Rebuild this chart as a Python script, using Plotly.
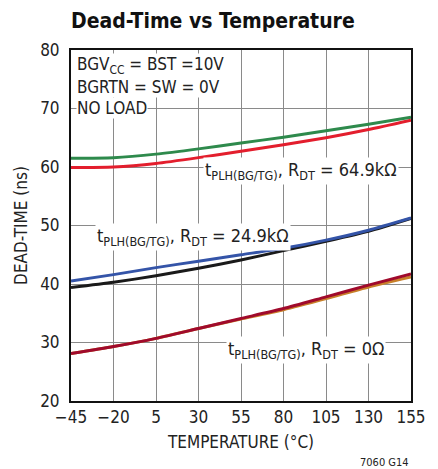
import plotly.graph_objects as go

temps = [-45, -20, 5, 30, 55, 80, 105, 130, 155]

green_649k = [61.5, 61.6, 62.2, 63.1, 64.1, 65.1, 66.2, 67.3, 68.5]
red_649k = [59.9, 60.0, 60.6, 61.6, 62.7, 63.8, 65.0, 66.4, 68.0]
black_249k = [39.4, 40.3, 41.4, 42.7, 44.1, 45.7, 47.3, 49.0, 51.2]
blue_249k = [40.5, 41.6, 42.8, 43.9, 45.0, 46.1, 47.5, 49.2, 51.3]
orange_0 = [28.1, 29.3, 30.7, 32.4, 34.0, 35.6, 37.5, 39.5, 41.2]
darkred_0 = [28.1, 29.3, 30.7, 32.4, 34.1, 35.8, 37.8, 39.8, 41.7]

x_ticks = [-45, -20, 5, 30, 55, 80, 105, 130, 155]
x_ticktext = ["\u221245", "\u221220", "5", "30", "55", "80", "105", "130", "155"]
y_ticks = [20, 30, 40, 50, 60, 70, 80]

FONT = "DejaVu Sans Condensed, Liberation Sans Narrow, Arial Narrow, sans-serif"

series = [
    (orange_0, "#c8802a"),
    (darkred_0, "#a00a2c"),
    (black_249k, "#1a1a1a"),
    (blue_249k, "#3454a8"),
    (red_649k, "#e31e2d"),
    (green_649k, "#2e8a4c"),
]

fig = go.Figure()
for ys, col in series:
    fig.add_trace(go.Scatter(x=temps, y=ys, mode="lines",
                             line=dict(color=col, width=3, shape="spline", smoothing=0.6),
                             showlegend=False, hoverinfo="skip"))

ann_font = dict(family=FONT, size=17, color="#222")
annotations = [
    dict(x=-45, y=77.3, xref="x", yref="y", xanchor="left", yanchor="middle",
         text="BGV<sub>CC</sub> = BST =10V", showarrow=False, bgcolor="white",
         borderpad=0, xshift=5, font=ann_font),
    dict(x=-45, y=73.7, xref="x", yref="y", xanchor="left", yanchor="middle",
         text="BGRTN = SW = 0V", showarrow=False, bgcolor="white",
         borderpad=0, xshift=5, font=ann_font),
    dict(x=-45, y=70.1, xref="x", yref="y", xanchor="left", yanchor="middle",
         text="NO LOAD", showarrow=False, bgcolor="white",
         borderpad=0, xshift=5, font=ann_font),
    dict(x=90, y=59.4, xref="x", yref="y", text="t<sub>PLH(BG/TG)</sub>, R<sub>DT</sub> = 64.9k\u03a9",
         showarrow=False, bgcolor="white", borderpad=1, font=dict(ann_font, size=18)),
    dict(x=27, y=48.1, xref="x", yref="y", text="t<sub>PLH(BG/TG)</sub>, R<sub>DT</sub> = 24.9k\u03a9",
         showarrow=False, bgcolor="white", borderpad=1, font=dict(ann_font, size=18)),
    dict(x=93, y=28.8, xref="x", yref="y", text="t<sub>PLH(BG/TG)</sub>, R<sub>DT</sub> = 0\u03a9",
         showarrow=False, bgcolor="white", borderpad=1, font=dict(ann_font, size=18)),
    dict(x=1.0, y=-0.174, xref="paper", yref="paper", xanchor="right", yanchor="middle",
         text="7060 G14", showarrow=False,
         font=dict(family=FONT, size=11, color="#222")),
]

# the page body adds an 8px margin, so the figure is sized/offset to compensate
fig.update_layout(
    width=430, height=461,
    margin=dict(l=60, r=19, t=42, b=68),
    paper_bgcolor="white", plot_bgcolor="white",
    title=dict(text="<b>Dead-Time vs Temperature</b>", x=0, xref="paper", xanchor="left",
               y=0.972, yanchor="middle", pad=dict(l=0, r=0, t=0, b=0),
               font=dict(family=FONT, size=21, color="#111")),
    font=dict(family=FONT, size=16, color="#222"),
    annotations=annotations,
)
fig.update_xaxes(range=[-45, 155], tickvals=x_ticks, ticktext=x_ticktext,
                 showgrid=True, gridcolor="#8a8a8a", gridwidth=1.3,
                 showline=True, linecolor="#111", linewidth=2, mirror=True,
                 ticks="", zeroline=False,
                 title=dict(text="TEMPERATURE (\u00b0C)", standoff=10,
                            font=dict(family=FONT, size=17)),
                 tickfont=dict(family=FONT, size=17))
fig.update_yaxes(range=[20, 80], tickvals=y_ticks,
                 showgrid=True, gridcolor="#8a8a8a", gridwidth=1.3,
                 showline=True, linecolor="#111", linewidth=2, mirror=True,
                 ticks="", zeroline=False, ticklabelstandoff=6,
                 title=dict(text="DEAD-TIME (ns)", standoff=8,
                            font=dict(family=FONT, size=17)),
                 tickfont=dict(family=FONT, size=17))

fig.write_html("out.html")
